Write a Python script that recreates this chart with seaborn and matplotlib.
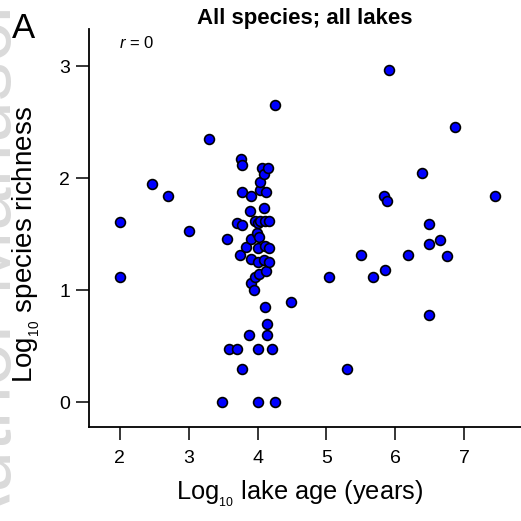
import numpy as np
import pandas as pd
import matplotlib
matplotlib.use("Agg")
import matplotlib.pyplot as plt
import seaborn as sns

# Log10 lake age (years)
lake_age = [
    2.00, 2.00, 2.475, 2.70, 3.00, 3.30, 3.48, 3.56, 3.59, 3.70,
    3.70, 3.74, 3.76, 3.77, 3.78, 3.78, 3.78, 3.83, 3.88, 3.89,
    3.90, 3.90, 3.90, 3.91, 3.95, 3.96, 3.97, 3.99, 4.00, 4.00,
    4.00, 4.00, 4.00, 4.02, 4.02, 4.03, 4.04, 4.04, 4.06, 4.09,
    4.10, 4.10, 4.11, 4.11, 4.11, 4.12, 4.13, 4.14, 4.14, 4.15,
    4.16, 4.16, 4.17, 4.21, 4.25, 4.25, 4.48, 5.04, 5.30, 5.50,
    5.68, 5.84, 5.85, 5.88, 5.906, 6.18, 6.39, 6.48, 6.48, 6.48,
    6.65, 6.74, 6.87, 7.44,
]

# Log10 species richness
richness = [
    1.61, 1.12, 1.946, 1.84, 1.53, 2.35, 0.00, 1.46, 0.477, 1.60,
    0.477, 1.32, 2.17, 0.30, 2.12, 1.88, 1.58, 1.39, 0.60, 1.71,
    1.84, 1.46, 1.07, 1.28, 1.00, 1.116, 1.62, 1.51, 1.60, 1.38,
    1.255, 0.477, 0.00, 1.48, 1.15, 1.90, 1.97, 1.62, 2.095, 1.27,
    2.04, 1.74, 1.62, 1.40, 0.85, 1.175, 1.88, 0.70, 0.60, 2.09,
    1.62, 1.38, 1.255, 0.477, 0.00, 2.66, 0.90, 1.116, 0.30, 1.32,
    1.116, 1.84, 1.18, 1.795, 2.967, 1.32, 2.047, 1.59, 1.41, 0.78,
    1.45, 1.305, 2.458, 1.845,
]

x_ticks = [2, 3, 4, 5, 6, 7]
y_ticks = [0, 1, 2, 3]

df = pd.DataFrame({"age": lake_age, "richness": richness})

sns.set_style("ticks")
plt.rcParams["font.family"] = ["Liberation Sans", "DejaVu Sans"]
plt.rcParams["mathtext.fontset"] = "custom"
plt.rcParams["mathtext.rm"] = "Liberation Sans"
plt.rcParams["mathtext.it"] = "Liberation Sans:italic"
for key in ["text.color", "axes.labelcolor", "xtick.color", "ytick.color",
            "axes.edgecolor"]:
    plt.rcParams[key] = "black"

fig = plt.figure(figsize=(5.21, 5.21), dpi=100)

# faint watermark running up the left edge, mostly cut off
fig.text(27 / 521, 1 - 545 / 521, "Author Manuscript", rotation=90,
         fontsize=56, color="#dadada", ha="right", va="bottom", zorder=0)

ax = fig.add_axes([0.171, 0.1795, 0.829, 0.7645])
ax.patch.set_alpha(0)

sns.scatterplot(data=df, x="age", y="richness", ax=ax, color="#0000ff",
                edgecolor="black", linewidth=1.2, s=50, legend=False, zorder=3)

ax.set_xlim(1.558, 7.82)
ax.set_ylim(-0.225, 3.333)
ax.set_xticks(x_ticks)
ax.set_yticks(y_ticks)
ax.tick_params(axis="both", length=9.5, width=1.1, labelsize=14)
ax.tick_params(axis="x", pad=7)
ax.tick_params(axis="y", pad=4)
for side in ["top", "right"]:
    ax.spines[side].set_visible(False)
for side in ["left", "bottom"]:
    ax.spines[side].set_linewidth(1.3)

ax.set_xlabel("Log$_{_{10}}$ lake age (years)", fontsize=18.3)
ax.set_ylabel("Log$_{_{10}}$ species richness", fontsize=20)
ax.xaxis.set_label_coords(0.488, -0.128)
ax.yaxis.set_label_coords(-0.108, 0.46)
ax.set_title("All species; all lakes", fontsize=16, fontweight="bold",
             pad=3)

ax.text(0.07, 0.965, "$\\it{r}$ = 0", transform=ax.transAxes, fontsize=12,
        ha="left", va="center")
fig.text(12 / 521, 1 - 38 / 521, "A", fontsize=25, ha="left", va="baseline")

fig.savefig("out.png", dpi=100)
